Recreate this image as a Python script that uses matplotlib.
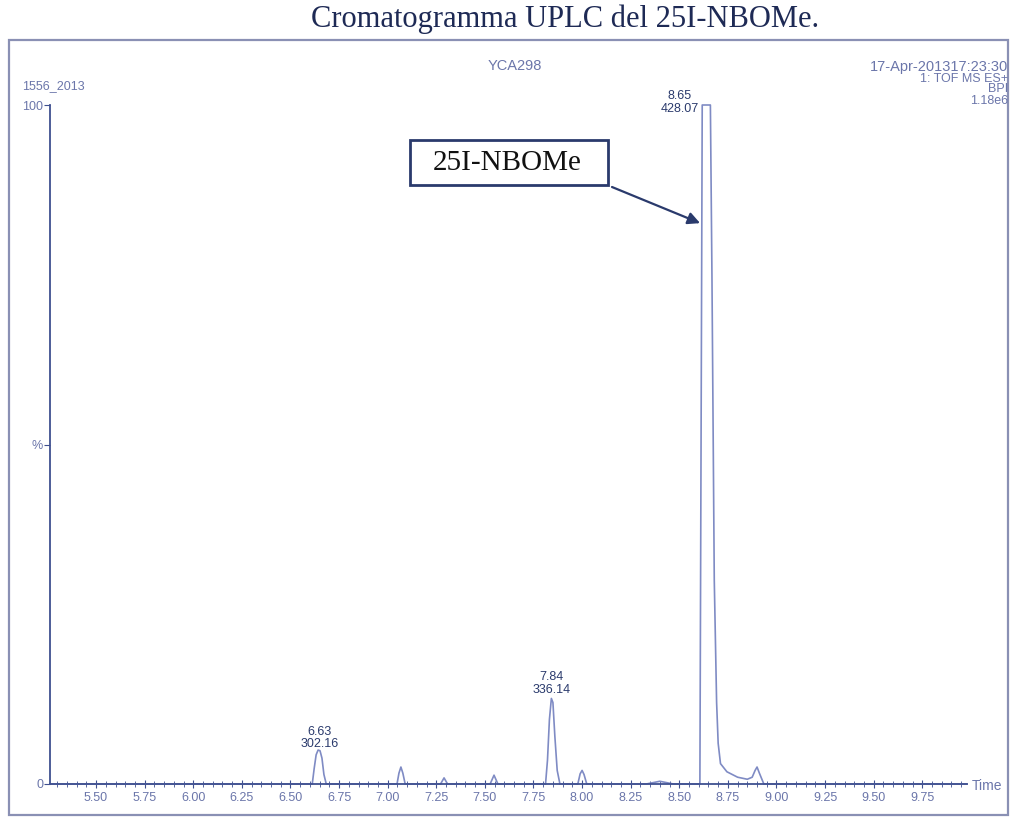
import matplotlib
matplotlib.use("Agg")
import matplotlib.pyplot as plt
from matplotlib.patches import Rectangle
import numpy as np

# ---- data ----
time = [5.263,
        6.612, 6.622, 6.632, 6.642, 6.652, 6.662, 6.672, 6.684,
        7.048, 7.058, 7.068, 7.078, 7.090,
        7.272, 7.290, 7.308,
        7.527, 7.547, 7.567,
        7.812, 7.822, 7.832, 7.842, 7.850, 7.860, 7.872, 7.886,
        7.978, 7.990, 8.000, 8.010, 8.024,
        8.330, 8.400, 8.470,
        8.606, 8.612, 8.618, 8.660, 8.668, 8.680, 8.692, 8.700, 8.712,
        8.745, 8.800, 8.850, 8.875, 8.890, 8.900, 8.912, 8.935,
        9.980]
intensity = [0.0,
             0.0, 2.3, 4.3, 5.0, 4.9, 3.8, 1.4, 0.0,
             0.0, 1.6, 2.5, 1.6, 0.0,
             0.0, 0.9, 0.0,
             0.0, 1.3, 0.0,
             0.0, 3.5, 9.5, 12.6, 12.0, 7.0, 2.0, 0.0,
             0.0, 1.5, 2.0, 1.4, 0.0,
             0.0, 0.4, 0.0,
             0.0, 50.0, 100.0, 100.0, 75.0, 30.0, 12.0, 6.0, 3.0,
             1.8, 1.0, 0.7, 1.0, 2.0, 2.5, 1.6, 0.0,
             0.0]

peak_rt = [6.63, 7.84, 8.65]
peak_mz = ["302.16", "336.14", "428.07"]
peak_x = [6.650, 7.845, 8.610]
peak_h = [5.0, 12.6, 100.0]

major_ticks = [5.50, 5.75, 6.00, 6.25, 6.50, 6.75, 7.00, 7.25, 7.50,
               7.75, 8.00, 8.25, 8.50, 8.75, 9.00, 9.25, 9.50, 9.75]

title = "Cromatogramma UPLC del 25I-NBOMe."
compound = "25I-NBOMe"
header_left = "1556_2013"
header_mid = "YCA298"
header_right = ["17-Apr-201317:23:30", "1: TOF MS ES+", "BPI", "1.18e6"]

# ---- styling ----
W, H = 1011, 817
fig = plt.figure(figsize=(W / 100, H / 100), dpi=100)
trace_c = "#7f8bc4"
axis_c = "#3f5090"
text_c = "#6b76aa"
dark_c = "#2a3a6c"

def fx(px):
    return px / W

def fy(py):
    return 1 - py / H

# outer frame
fig.patches.append(Rectangle((fx(9), fy(815)), fx(999), 775 / H,
                             transform=fig.transFigure, fill=False,
                             edgecolor="#8a90b4", linewidth=1.6))

fig.text(fx(565), fy(19), title, ha="center", va="center",
         family="Liberation Serif", fontsize=22, color="#1e2a55")

x0, x1 = 50, 967
y0, y1 = 784, 105
ax = fig.add_axes([fx(x0), fy(y0), (x1 - x0) / W, (y0 - y1) / H])
ax.set_xlim(5.263, 9.98)
ax.set_ylim(0, 100)
ax.plot(time, intensity, color=trace_c, lw=1.2, clip_on=False)

for s in ["top", "right"]:
    ax.spines[s].set_visible(False)
for s in ["left", "bottom"]:
    ax.spines[s].set_color(axis_c)
    ax.spines[s].set_linewidth(1.3)

ax.set_xticks(major_ticks)
ax.set_xticklabels([f"{v:.2f}" for v in major_ticks])
ax.set_xticks(np.arange(5.30, 9.99, 0.05), minor=True)
ax.tick_params(axis="x", which="major", direction="inout", length=6,
               color=axis_c, labelsize=9, labelcolor=text_c, pad=3)
ax.tick_params(axis="x", which="minor", direction="inout", length=4,
               color=axis_c)
ax.set_yticks([0, 50, 100])
ax.set_yticklabels(["0", "%", "100"])
ax.tick_params(axis="y", direction="out", length=4, color=axis_c,
               labelsize=9, labelcolor=text_c, pad=1)
for lab in ax.get_xticklabels() + ax.get_yticklabels():
    lab.set_family("Liberation Sans")

fig.text(fx(972), fy(786), "Time", ha="left", va="center",
         family="Liberation Sans", fontsize=10, color=text_c)

# header texts
fig.text(fx(22), fy(86), header_left, ha="left", va="center",
         family="Liberation Sans", fontsize=9, color=text_c)
fig.text(fx(515), fy(66), header_mid, ha="center", va="center",
         family="Liberation Sans", fontsize=10.5, color=text_c)
hdr_sizes = [10.5, 9, 9, 9]
hdr_y = [67, 78.5, 89.5, 100.5]
for s, fs, yy in zip(header_right, hdr_sizes, hdr_y):
    fig.text(fx(1008), fy(yy), s, ha="right", va="center",
             family="Liberation Sans", fontsize=fs, color=text_c)

# peak labels
lab_off = [(0, 0), (0, 2), (-15, -7)]
for rt, mz, px, h, off in zip(peak_rt, peak_mz, peak_x, peak_h, lab_off):
    ax.annotate(f"{rt:.2f}\n{mz}", xy=(px, h), xytext=off,
                textcoords="offset points", ha="center", va="bottom",
                family="Liberation Sans", fontsize=9, color=dark_c,
                linespacing=1.05, annotation_clip=False)

# compound box + arrow
fig.patches.append(Rectangle((fx(410), fy(185)), fx(198), 45 / H,
                             transform=fig.transFigure, fill=False,
                             edgecolor=dark_c, linewidth=2))
fig.text(fx(507), fy(163), compound, ha="center", va="center",
         family="Liberation Serif", fontsize=21, color="#111111")
ax.annotate("", xy=(8.607, 82.6), xytext=(fx(612), fy(187)),
            textcoords="figure fraction",
            arrowprops=dict(arrowstyle="-|>", color=dark_c, lw=1.6,
                            mutation_scale=18, shrinkA=0, shrinkB=0))

fig.savefig("out.png", dpi=100)
